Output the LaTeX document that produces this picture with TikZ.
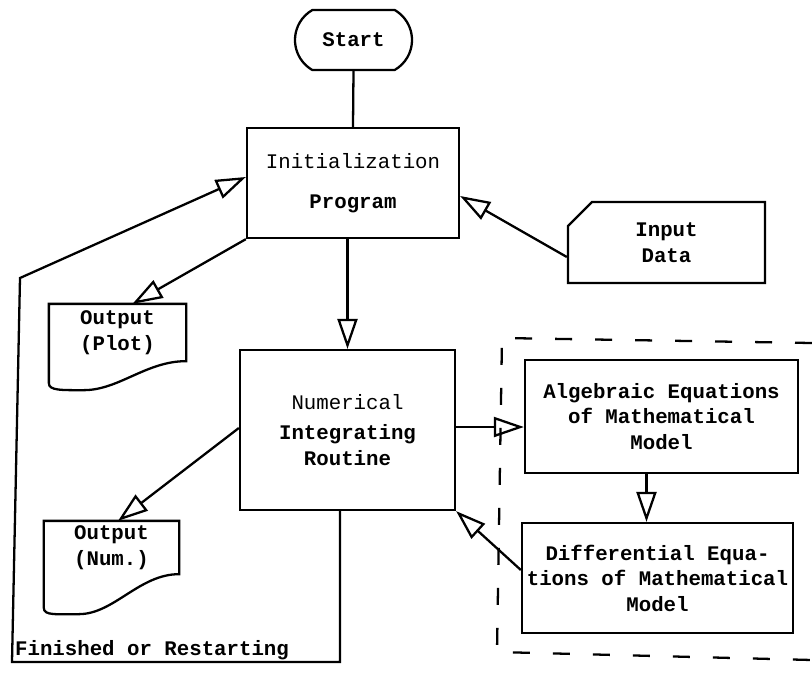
\documentclass[tikz,border=0pt]{standalone}
\usepackage{fontspec}
\setmonofont{Liberation Mono}
\usetikzlibrary{positioning,arrows.meta,shapes.misc}

\begin{document}
\begin{tikzpicture}[line width=1.3pt,
	every node/.style={font=\ttfamily\bfseries\fontsize{11.8}{14.5}\selectfont, align=center, inner sep=0pt},
	box/.style={draw, rectangle},
	docbox/.style={rectangle},
	flow/.style={-{Triangle[open,length=0.6cm,width=0.4cm]}}]
	\useasboundingbox (0,0) rectangle (16.24,-13.44);

	\node[draw, rounded rectangle, rounded rectangle arc length=120, minimum width=2.34cm, minimum height=1.2cm] (start) at (7.07,-0.8){Start};
	\node[box, minimum width=4.24cm, minimum height=2.2cm] (init) at (7.06,-3.66){\mdseries Initialization\\[0.3cm]Program};
	\node[draw, chamfered rectangle, chamfered rectangle corners=north west, chamfered rectangle xsep=0.38cm, minimum width=3.94cm, minimum height=1.62cm] (input) at (13.33,-4.85){Input\\Data};
	\node[docbox, minimum width=2.7cm, minimum height=1.1cm] (plot) at (2.35,-6.65){Output\\(Plot)};
	\node[box, minimum width=4.3cm, minimum height=3.2cm] (num) at (6.95,-8.6){\mdseries Numerical\\[0.1cm]Integrating\\Routine};
	\node[docbox, minimum width=2.66cm, minimum height=1.02cm] (numout) at (2.23,-10.95){Output\\(Num.)};
	\node[box, minimum width=5.46cm, minimum height=2.26cm] (alg) at (13.23,-8.33){Algebraic Equations\\of Mathematical\\Model};
	\node[box, minimum width=5.42cm, minimum height=2.2cm] (diff) at (13.15,-11.56){Differential Equa-\\tions of Mathematical\\Model};
	\node[anchor=base west] (fin) at (0.28,-13.1){Finished or Restarting};

	% output sheets
	\foreach \n/\d/\e in {plot/0.58/0.44,numout/0.8/0.68}
		\draw (\n.north west) -- (\n.north east) -- (\n.south east)
			.. controls +(-0.8,0) and +(0.7,0) .. ([xshift=0.7cm,yshift=-\d cm]\n.south west)
			.. controls +(-0.45,0) and +(0,-0.15) .. ([yshift=-\e cm]\n.south west) -- cycle;

	% model frame
	\draw[dash pattern=on 0.34cm off 0.46cm] (16.24,-6.86) -- (10.04,-6.76) -- (9.94,-13.04) -- (16.24,-13.2);

	\draw (start.south) -- (init.north);
	\draw[flow] (init.south -| num.north) -- (num.north);
	\draw[flow] ([yshift=-0.29cm]input.west) -- ([yshift=-0.26cm]init.east);
	\draw[flow] (init.south west) -- ([xshift=0.3cm]plot.north);
	\draw[flow] ([yshift=0.04cm]num.west) -- ([xshift=0.13cm]numout.north);
	\draw[flow] ([yshift=0.06cm]num.east) -- ([yshift=0.06cm]num.east -| alg.west);
	\draw[flow] ([xshift=-0.3cm]alg.south) -- ([xshift=-0.3cm]alg.south |- diff.north);
	\draw[flow] ([yshift=0.16cm]diff.west) -- (num.south east);

	\coordinate (loopbl) at (0.24,-13.24);
	\coordinate (looptl) at (0.4,-5.56);
	\draw[flow] ([xshift=-0.15cm]num.south) |- (loopbl) -- (looptl) -- ([yshift=0.12cm]init.west);
\end{tikzpicture}
\end{document}
